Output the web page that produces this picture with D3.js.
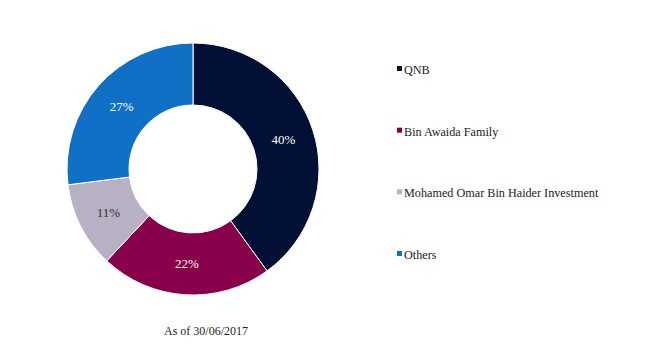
<!DOCTYPE html>
<html>
<head>
<meta charset="utf-8">
<title>Shareholders</title>
<script src="https://d3js.org/d3.v7.min.js"></script>
<style>
 body { margin: 0; background: #fff; }
</style>
</head>
<body>
<div id="chart"></div>
<script>
var holders = ["QNB", "Bin Awaida Family", "Mohamed Omar Bin Haider Investment", "Others"];
var shares = [40, 22, 11, 27];
var colors = ["#011034", "#880049", "#b8b1c3", "#1070c6"];
var labelColors = ["#fff", "#fff", "#333", "#fff"];

var serif = "'Liberation Serif', 'Times New Roman', serif";
var width = 650, height = 352;
var cx = 193, cy = 169, outerR = 126, innerR = 64;

var svg = d3.select("#chart").append("svg")
  .attr("width", width)
  .attr("height", height);

var g = svg.append("g")
  .attr("transform", "translate(" + cx + "," + cy + ")");

var pie = d3.pie().sort(null).value(function(d) { return d; });
var arc = d3.arc().innerRadius(innerR).outerRadius(outerR);

var arcs = g.selectAll(".slice")
  .data(pie(shares))
  .enter().append("g")
  .attr("class", "slice");

arcs.append("path")
  .attr("d", arc)
  .attr("fill", function(d, i) { return colors[i]; })
  .attr("stroke", "#fff")
  .attr("stroke-width", 1);

arcs.append("text")
  .attr("transform", function(d) { return "translate(" + arc.centroid(d) + ")"; })
  .attr("text-anchor", "middle")
  .attr("dy", "0.35em")
  .attr("font-family", serif)
  .attr("font-size", 13)
  .attr("fill", function(d, i) { return labelColors[i]; })
  .text(function(d) { return d.data + "%"; });

// legend
var legendY = d3.scalePoint().domain(holders).range([70, 255]);

var legend = svg.append("g")
  .selectAll("g")
  .data(holders)
  .enter().append("g")
  .attr("transform", function(d) { return "translate(397," + legendY(d) + ")"; });

legend.append("rect")
  .attr("x", 0)
  .attr("y", -4)
  .attr("width", 5)
  .attr("height", 5)
  .attr("fill", function(d, i) { return colors[i]; });

legend.append("text")
  .attr("x", 7)
  .attr("y", 0)
  .attr("dy", "0.33em")
  .attr("font-family", serif)
  .attr("font-size", 12.2)
  .attr("fill", "#222")
  .text(function(d) { return d; });

svg.append("text")
  .attr("x", 206)
  .attr("y", 335)
  .attr("text-anchor", "middle")
  .attr("font-family", serif)
  .attr("font-size", 12)
  .attr("fill", "#222")
  .text("As of 30/06/2017");
</script>
</body>
</html>
